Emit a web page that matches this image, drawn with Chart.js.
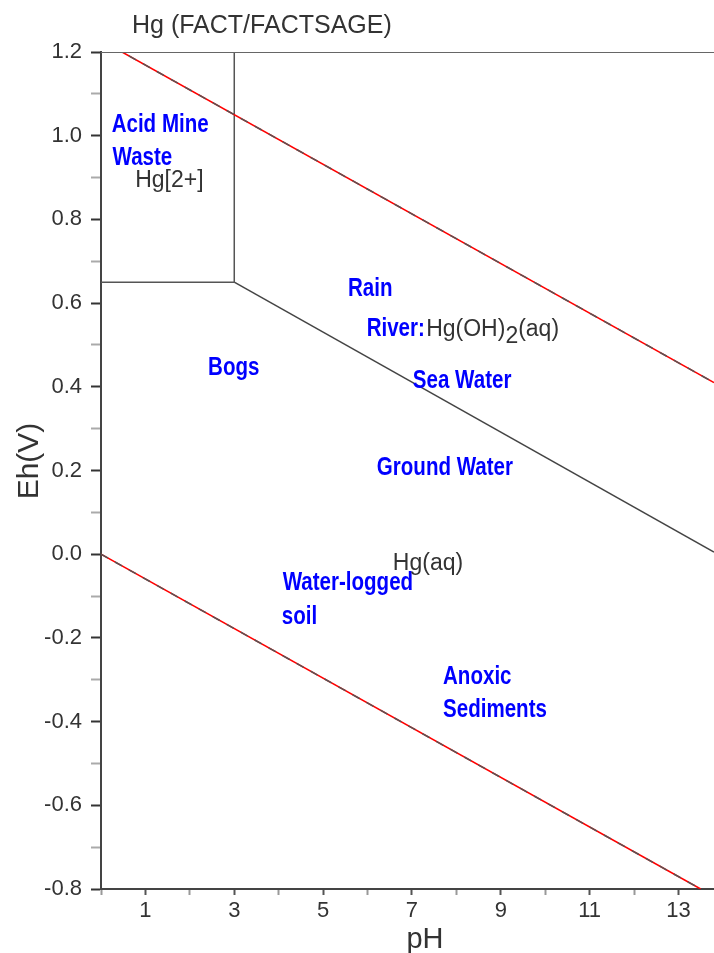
<!DOCTYPE html>
<html><head><meta charset="utf-8">
<script src="https://cdn.jsdelivr.net/npm/chart.js@4/dist/chart.umd.min.js"></script>
<style>html,body{margin:0;padding:0;background:#fff;}canvas{display:block;}</style>
</head><body>
<canvas id="c" width="714" height="953"></canvas>
<script>
// ---- text ----
const chartTitle = 'Hg (FACT/FACTSAGE)';
const xAxisTitle = 'pH';
const yAxisTitle = 'Eh(V)';

// ---- axes ----
const xRange = [0, 13.8];
const yRange = [-0.8, 1.2];
const xTickValues = [0,1,2,3,4,5,6,7,8,9,10,11,12,13];
const xTickLabels = [1,3,5,7,9,11,13];
const yTickValues = [-0.8,-0.7,-0.6,-0.5,-0.4,-0.3,-0.2,-0.1,0,0.1,0.2,0.3,0.4,0.5,0.6,0.7,0.8,0.9,1.0,1.1,1.2];
const yTickLabels = [-0.8,-0.6,-0.4,-0.2,0,0.2,0.4,0.6,0.8,1.0,1.2];

// ---- lines (pH, Eh) ----
const upperWaterPH = [0, 13.8];
const upperWaterEh = [1.228, 0.41];
const lowerWaterPH = [0, 13.5];
const lowerWaterEh = [0, -0.8];
const boundaryHg2PH = [0, 3, 3];
const boundaryHg2Eh = [0.65, 0.65, 1.2];
const boundaryHgOHPH = [3, 13.8];
const boundaryHgOHEh = [0.65, 0.005];
const frameTopPH = [0, 13.8];
const frameTopEh = [1.2, 1.2];

// ---- environment labels ----
const envNames = ['Acid Mine','Waste','Rain','River:','Bogs','Sea Water','Ground Water','Water-logged','soil','Anoxic','Sediments'];
const envPH    = [0.24, 0.26, 5.56, 5.98, 2.41, 7.02, 6.21, 4.09, 4.07, 7.70, 7.70];
const envEh    = [1.027, 0.947, 0.634, 0.538, 0.445, 0.414, 0.207, -0.068, -0.149, -0.293, -0.372];

// ---- species labels ----
const speciesNames = ['Hg[2+]', 'Hg(OH)_2(aq)', 'Hg(aq)'];
const speciesPH    = [0.77, 7.32, 6.57];
const speciesEh    = [0.892, 0.536, -0.022];

const pts = (xs, ys) => xs.map((x, i) => ({x: x, y: ys[i]}));

function lineDS(data, color, width, dash) {
  return {data: data, showLine: true, pointRadius: 0, borderColor: color, borderWidth: width,
          borderDash: dash || [], fill: false, tension: 0};
}

const labelPlugin = {
  id: 'labels',
  afterDraw(chart) {
    const ctx = chart.ctx, xs = chart.scales.x, ys = chart.scales.y;
    ctx.save();
    // title
    ctx.fillStyle = '#333';
    ctx.font = '25px "Liberation Sans", Arial, sans-serif';
    ctx.textAlign = 'left';
    ctx.textBaseline = 'alphabetic';
    ctx.fillText(chartTitle, 132, 33);
    // axis titles
    ctx.font = '29px "Liberation Sans", Arial, sans-serif';
    ctx.textAlign = 'center';
    ctx.fillText(xAxisTitle, 425, 948);
    ctx.save();
    ctx.translate(38, 461);
    ctx.rotate(-Math.PI / 2);
    ctx.font = '30px "Liberation Sans", Arial, sans-serif';
    ctx.textBaseline = 'alphabetic';
    ctx.fillText(yAxisTitle, 0, 0);
    ctx.restore();

    // clip labels to chart area
    ctx.beginPath();
    ctx.rect(chart.chartArea.left, 0, chart.chartArea.right - chart.chartArea.left, chart.height);
    ctx.clip();

    // environment labels (condensed heavy face)
    ctx.fillStyle = '#0000ff';
    ctx.font = 'bold 26px "Liberation Sans", Arial, sans-serif';
    ctx.textAlign = 'left';
    ctx.textBaseline = 'middle';
    envNames.forEach((n, i) => {
      ctx.save();
      ctx.translate(xs.getPixelForValue(envPH[i]), ys.getPixelForValue(envEh[i]));
      ctx.scale(0.79, 1);
      ctx.fillText(n, 0, 0);
      ctx.restore();
    });
    // species labels
    ctx.fillStyle = '#333';
    const f = '23px "Liberation Sans", Arial, sans-serif';
    speciesNames.forEach((n, i) => {
      let x = xs.getPixelForValue(speciesPH[i]);
      const y = ys.getPixelForValue(speciesEh[i]);
      const parts = n.split('_');
      parts.forEach((p, j) => {
        ctx.font = f;
        if (j > 0) {
          const sub = p.charAt(0);
          ctx.fillText(sub, x, y + 7);
          x += ctx.measureText(sub).width;
          p = p.slice(1);
        }
        ctx.fillText(p, x, y);
        x += ctx.measureText(p).width;
      });
    });
    ctx.restore();
  }
};

new Chart(document.getElementById('c'), {
  type: 'scatter',
  data: {
    datasets: [
      // earlier datasets are drawn on top
      lineDS(pts(frameTopPH, frameTopEh), '#666', 2),
      lineDS(pts(upperWaterPH, upperWaterEh), '#555', 1.5, [8, 8]),
      lineDS(pts(upperWaterPH, upperWaterEh), '#ff0000', 1.6),
      lineDS(pts(lowerWaterPH, lowerWaterEh), '#555', 1.5, [8, 8]),
      lineDS(pts(lowerWaterPH, lowerWaterEh), '#ff0000', 1.6),
      lineDS(pts(boundaryHg2PH, boundaryHg2Eh), '#555', 1.5),
      lineDS(pts(boundaryHgOHPH, boundaryHgOHEh), '#444', 1.5)
    ]
  },
  options: {
    responsive: false,
    animation: false,
    devicePixelRatio: 1,
    events: [],
    layout: {padding: {top: 52, right: 0, bottom: 0, left: 0}},
    plugins: {legend: {display: false}, tooltip: {enabled: false}, title: {display: false}},
    scales: {
      x: {
        type: 'linear', min: xRange[0], max: xRange[1],
        afterFit(s) { s.height = 64; },
        afterBuildTicks(s) { s.ticks = xTickValues.map(v => ({value: v})); },
        grid: {drawOnChartArea: false, drawTicks: true, tickLength: 6, tickWidth: 2,
               tickColor: c => (xTickLabels.includes(c.tick && c.tick.value) ? '#555' : '#999')},
        border: {display: true, color: '#444', width: 2},
        ticks: {
          autoSkip: false, maxRotation: 0, padding: 3, color: '#333',
          font: {family: '"Liberation Sans", Arial, sans-serif', size: 22},
          callback: v => (xTickLabels.includes(v) ? String(v) : '')
        }
      },
      y: {
        type: 'linear', min: yRange[0], max: yRange[1],
        afterFit(s) { s.width = 101; },
        afterBuildTicks(s) { s.ticks = yTickValues.map(v => ({value: v})); },
        grid: {drawOnChartArea: false, drawTicks: true, tickLength: 10, tickWidth: 2,
               tickColor: c => (yTickLabels.some(t => Math.abs(t - (c.tick ? c.tick.value : 99)) < 1e-6) ? '#333' : '#aaa')},
        border: {display: true, color: '#444', width: 2},
        ticks: {
          autoSkip: false, padding: 9, color: '#333',
          font: {family: '"Liberation Sans", Arial, sans-serif', size: 22},
          callback: v => (yTickLabels.some(t => Math.abs(t - v) < 1e-6) ? v.toFixed(1) : '')
        }
      }
    }
  },
  plugins: [labelPlugin]
});
</script>
</body></html>
